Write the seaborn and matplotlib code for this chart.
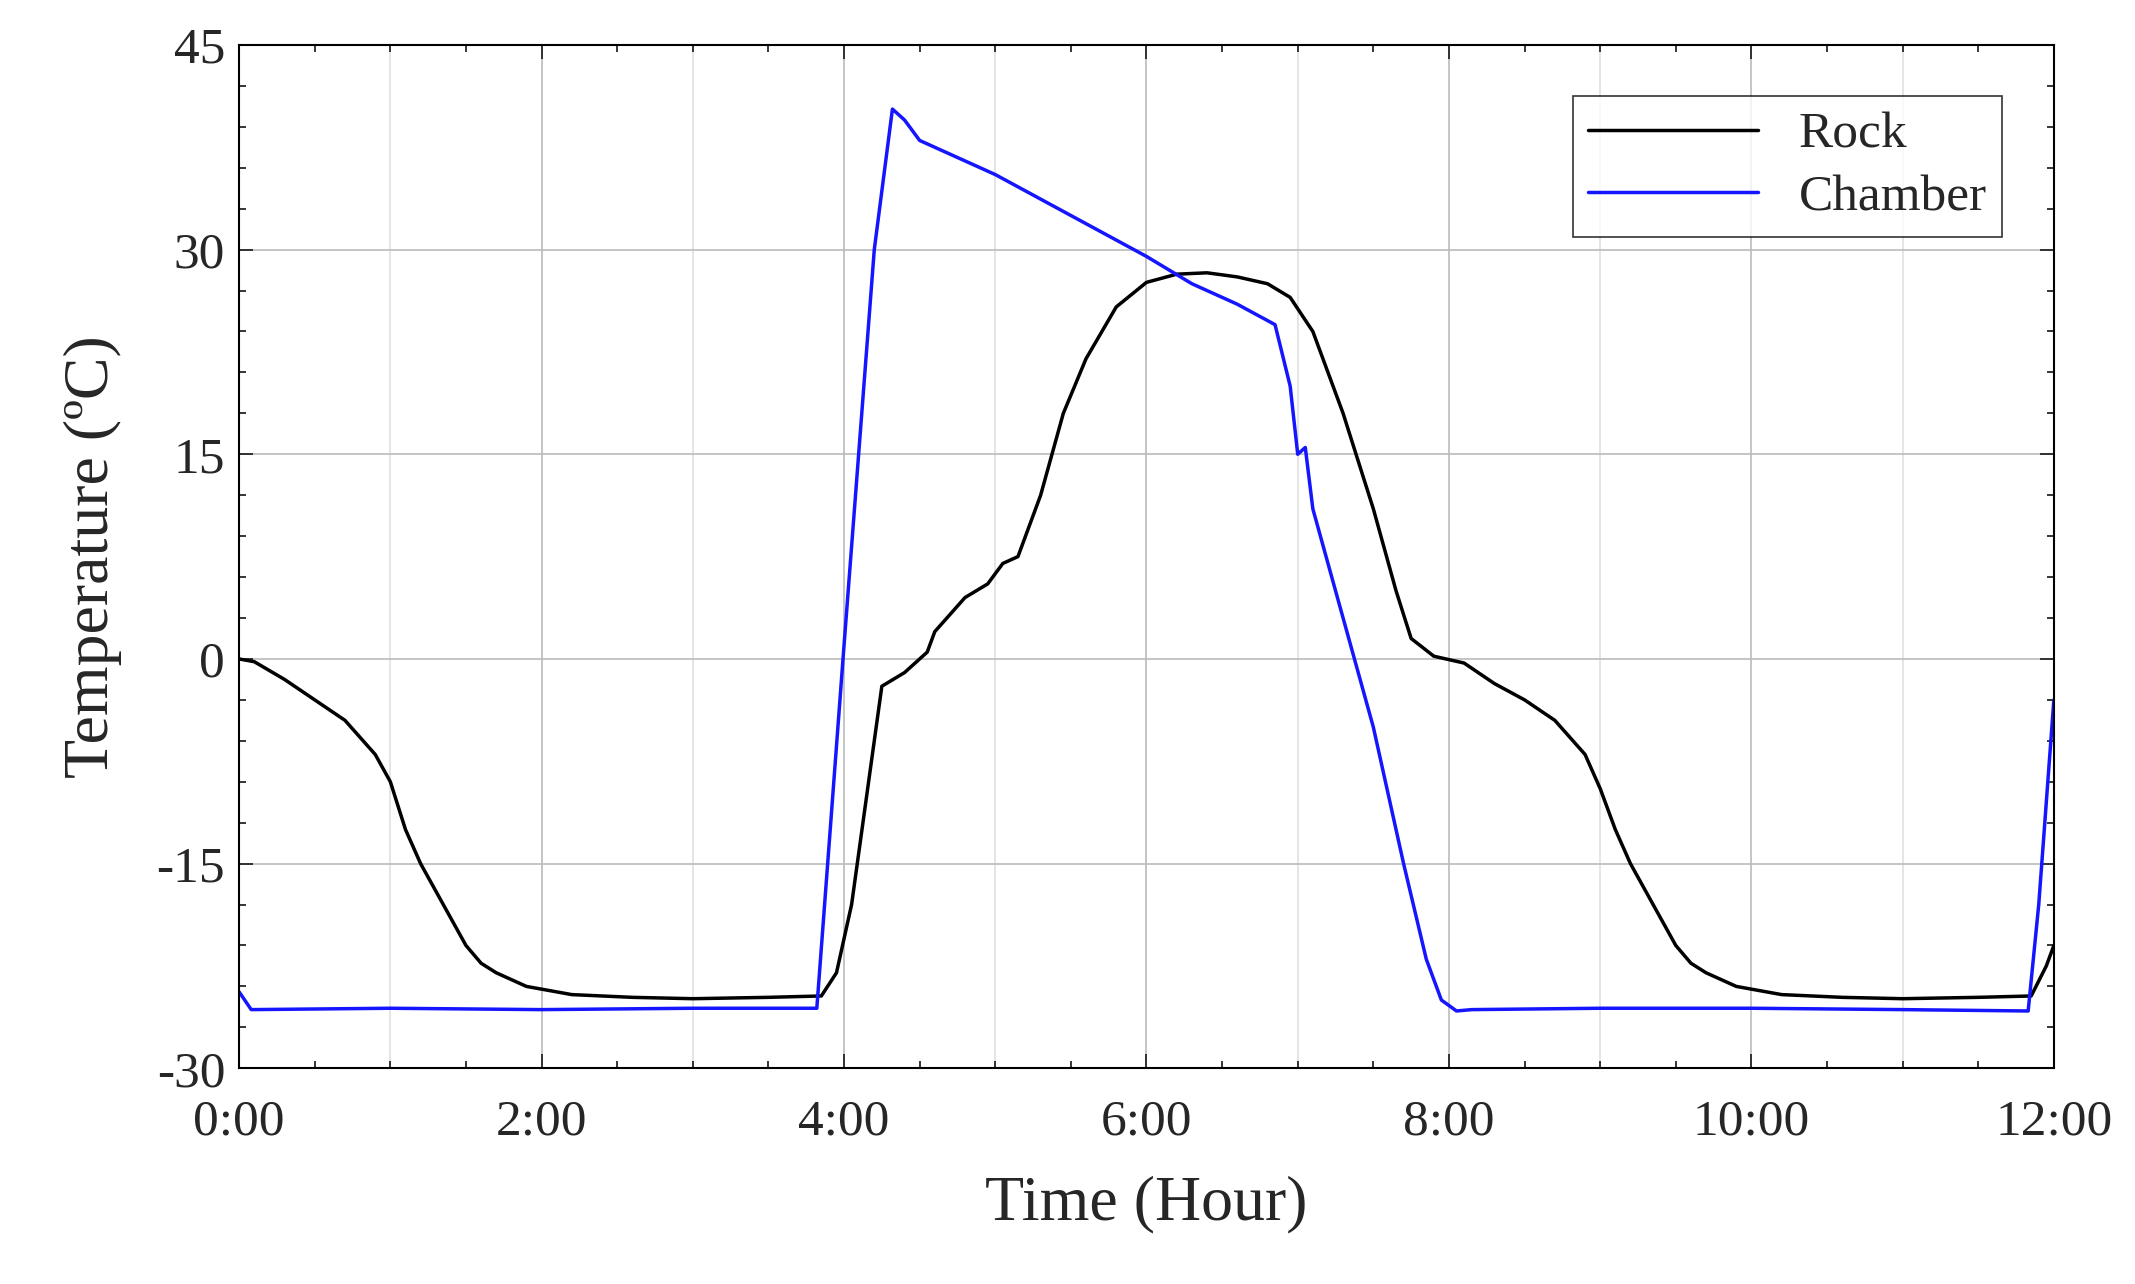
import matplotlib
matplotlib.use("Agg")
import matplotlib.pyplot as plt
import seaborn as sns
from matplotlib.ticker import MultipleLocator, FuncFormatter

rock_t = [0,0.1,0.3,0.5,0.7,0.9,1.0,1.1,1.2,1.3,1.4,1.5,1.6,1.7,1.9,2.2,2.6,3.0,3.5,3.85,3.95,4.05,4.15,4.25,4.4,4.55,4.6,4.8,4.95,5.05,5.15,5.3,5.45,5.6,5.8,6.0,6.2,6.4,6.6,6.8,6.95,7.1,7.3,7.5,7.65,7.75,7.9,8.1,8.3,8.5,8.7,8.9,9.0,9.1,9.2,9.3,9.4,9.5,9.6,9.7,9.9,10.2,10.6,11.0,11.5,11.85,11.95,12.0]
rock_v = [0,-0.2,-1.5,-3,-4.5,-7,-9,-12.5,-15,-17,-19,-21,-22.3,-23,-24,-24.6,-24.8,-24.9,-24.8,-24.7,-23,-18,-10,-2,-1,0.5,2,4.5,5.5,7,7.5,12,18,22,25.8,27.6,28.2,28.3,28,27.5,26.5,24,18,11,5,1.5,0.2,-0.3,-1.8,-3,-4.5,-7,-9.5,-12.5,-15,-17,-19,-21,-22.3,-23,-24,-24.6,-24.8,-24.9,-24.8,-24.7,-22.5,-21]
ch_t = [0,0.08,1,2,3,3.82,4.0,4.2,4.32,4.4,4.5,5,5.5,6,6.3,6.6,6.85,6.95,7.0,7.05,7.1,7.3,7.5,7.7,7.85,7.95,8.05,8.15,9,10,11,11.83,11.9,12.0]
ch_v = [-24.4,-25.7,-25.6,-25.7,-25.6,-25.6,1,30,40.3,39.5,38,35.5,32.5,29.5,27.5,26,24.5,20,15,15.5,11,3,-5,-15,-22,-25,-25.8,-25.7,-25.6,-25.6,-25.7,-25.8,-18,-3]

sns.set_theme(style="white")
plt.rcParams['font.family'] = ['Liberation Serif', 'DejaVu Serif']
plt.rcParams['axes.unicode_minus'] = False
fig = plt.figure(figsize=(21.35, 12.84), dpi=100)
ax = fig.add_axes([0.112, 0.168, 0.85, 0.797])
for h in [1, 3, 5, 7, 9, 11]:
    ax.axvline(h, color='#e0e0e0', lw=1.2, zorder=0)
sns.lineplot(x=rock_t, y=rock_v, color='black', lw=2.5, ax=ax, label='Rock')
sns.lineplot(x=ch_t, y=ch_v, color='#1515ff', lw=2.5, ax=ax, label='Chamber')
ax.set_xlim(0, 12); ax.set_ylim(-30, 45)
ax.xaxis.set_major_locator(MultipleLocator(2)); ax.xaxis.set_minor_locator(MultipleLocator(0.5))
ax.yaxis.set_major_locator(MultipleLocator(15)); ax.yaxis.set_minor_locator(MultipleLocator(3))
ax.xaxis.set_major_formatter(FuncFormatter(lambda v, p: f"{int(v)}:00"))
ax.grid(True, which='major', color='#bbbbbb', lw=1.2)
for s in ax.spines.values():
    s.set_color('black'); s.set_linewidth(1.5)
ax.tick_params(which='both', direction='in', top=True, right=True, bottom=True, left=True, labelsize=37, width=1.3)
ax.tick_params(which='major', length=10); ax.tick_params(which='minor', length=5)
ax.tick_params(axis='x', pad=22)
ax.tick_params(axis='y', pad=10)
ax.set_xlabel('Time (Hour)', fontsize=46, labelpad=22)
ax.set_ylabel('Temperature (ºC)', fontsize=46, labelpad=25)
leg = ax.legend(loc='upper right', fontsize=37, frameon=True, fancybox=False, edgecolor='black',
                handlelength=3.3, borderaxespad=1.0, labelspacing=0.3, borderpad=0.3)
leg.get_frame().set_linewidth(1.2)
fig.savefig('out.png', dpi=100)
